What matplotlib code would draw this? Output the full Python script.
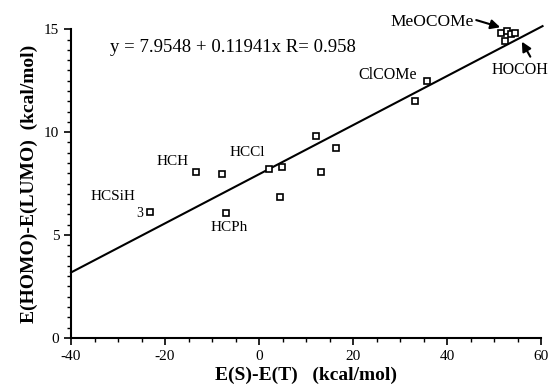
import numpy as np
import matplotlib
matplotlib.use("Agg")
import matplotlib.pyplot as plt
from matplotlib.ticker import MultipleLocator

plt.rcParams['font.family'] = ['Liberation Serif', 'DejaVu Serif']
plt.rcParams['mathtext.fontset'] = 'custom'
plt.rcParams['mathtext.rm'] = 'Liberation Serif'
plt.rcParams['axes.unicode_minus'] = False

# Datos
es_et = [-23.2, -13.4, -7.9, -7.0, 2.1, 4.8, 4.5, 12.1, 13.2, 16.4,
         33.1, 35.7, 51.5, 52.3, 52.8, 53.5, 54.5]
homo_lumo = [6.13, 8.07, 7.96, 6.05, 8.20, 8.32, 6.86, 9.80, 8.05, 9.21,
             11.53, 12.50, 14.80, 14.45, 14.90, 14.75, 14.80]

# Ajuste lineal publicado
a, b = 7.9548, 0.11941
x_fit = np.array([-40, 60.3])
y_fit = a + b * x_fit

fig = plt.figure(figsize=(5.55, 3.91), dpi=100)
ax = fig.add_axes([0.128, 0.136, 0.847, 0.789])

ax.plot(x_fit, y_fit, color='black', lw=1.5, clip_on=False, zorder=2)
ax.plot(es_et, homo_lumo, 's', mfc='white', mec='black', ms=4.5, mew=1.2,
        clip_on=False, zorder=3)

ax.set_xlim(-40, 60)
ax.set_ylim(0, 15)
ax.xaxis.set_major_locator(MultipleLocator(20))
ax.xaxis.set_minor_locator(MultipleLocator(5))
ax.yaxis.set_major_locator(MultipleLocator(5))
ax.yaxis.set_minor_locator(MultipleLocator(0.5))

for s in ['top', 'right']:
    ax.spines[s].set_visible(False)
for s in ['left', 'bottom']:
    ax.spines[s].set_linewidth(1.5)

ax.tick_params(which='major', direction='out', length=5, width=1.2, labelsize=11)
ax.tick_params(which='minor', direction='out', length=3, width=1)

ax.set_xlabel('E(S)-E(T)   (kcal/mol)', fontsize=14, fontweight='bold', labelpad=3)
ax.set_ylabel('E(HOMO)-E(LUMO)  (kcal/mol)', fontsize=14, fontweight='bold', labelpad=4)

ax.text(-31.7, 14.13, 'y = 7.9548 + 0.11941x R= 0.958', fontsize=13.5, va='center')

# etiquetas de compuestos
ax.text(-31.0, 6.85, 'HCSiH', fontsize=11, ha='center', va='center')
ax.text(-25.3, 6.05, '3', fontsize=10, ha='center', va='center')
ax.text(-18.5, 8.55, 'HCH', fontsize=11, ha='center', va='center')
ax.text(-2.55, 9.03, 'HCCl', fontsize=11, ha='center', va='center')
ax.text(-6.4, 5.34, 'HCPh', fontsize=11, ha='center', va='center')
ax.text(27.4, 12.78, 'ClCOMe', fontsize=11.5, ha='center', va='center')
ax.text(36.8, 15.36, 'MeOCOMe', fontsize=12.5, ha='center', va='center')
ax.text(55.5, 13.02, 'HOCOH', fontsize=11.5, ha='center', va='center')

ax.annotate('', xy=(51.3, 15.1), xytext=(46.2, 15.45),
            arrowprops=dict(arrowstyle='-|>', color='black', lw=1.5,
                            mutation_scale=14, shrinkA=0, shrinkB=0),
            annotation_clip=False)
ax.annotate('', xy=(55.9, 14.4), xytext=(57.7, 13.67),
            arrowprops=dict(arrowstyle='-|>', color='black', lw=1.5,
                            mutation_scale=14, shrinkA=0, shrinkB=0),
            annotation_clip=False)

fig.savefig('out.png', dpi=100)
